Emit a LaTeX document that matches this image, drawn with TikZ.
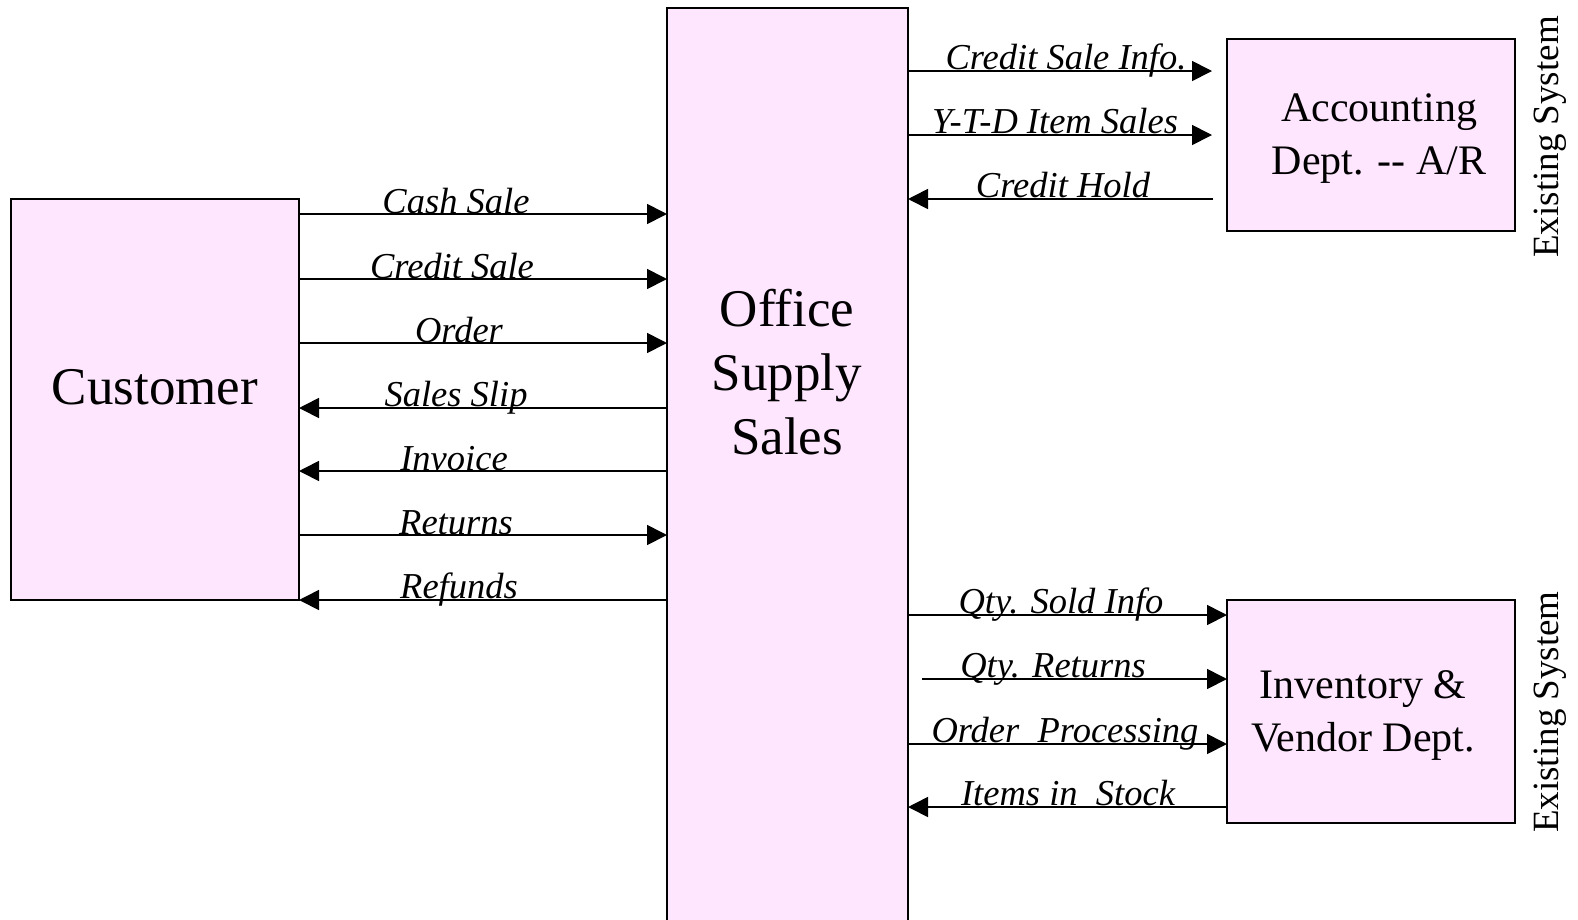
\documentclass[tikz,border=0pt]{standalone}
\usepackage{fontspec}
\setmainfont{Liberation Serif}
\usetikzlibrary{arrows.meta}
\definecolor{boxfill}{RGB}{255,230,255}
\begin{document}
\begin{tikzpicture}[x=1pt,y=-1pt,
  box/.style={draw=black,line width=1.8pt,fill=boxfill},
  flow/.style={line width=1.7pt,-{Triangle[length=20pt,width=20pt]}},
  lbl/.style={font=\fontsize{36.5}{40}\selectfont\itshape,anchor=base,inner sep=0pt},
  bigtxt/.style={font=\fontsize{53}{64}\selectfont,align=center},
  medtxt/.style={font=\fontsize{42}{53}\selectfont,align=center},
  sidetxt/.style={font=\fontsize{37}{40}\selectfont,rotate=90}]
\useasboundingbox (0,0) rectangle (1578,919);
% boxes
\path[box] (11,199) rectangle (299,600);
\path[box] (667,8) rectangle (908,925);
\path[box] (1227,39) rectangle (1515,231);
\path[box] (1227,600) rectangle (1515,823);
\node[bigtxt] (cust) at (155,387) {Customer};
\node[bigtxt] (oss) at (787,372) {Office\\Supply\\Sales};
\node[medtxt] (acc) at (1379,139) {Accounting\\Dept. -{}- A/R};
\node[medtxt] (inv) at (1363,715) {Inventory \&\\Vendor Dept.};
\node[sidetxt] (es1) at (1550,137) {Existing System};
\node[sidetxt] (es2) at (1550,712) {Existing System};
% left flows
\coordinate (l1) at (299,214); \coordinate (r1) at (667,214);
\coordinate (l2) at (299,279); \coordinate (r2) at (667,279);
\coordinate (l3) at (299,343); \coordinate (r3) at (667,343);
\coordinate (l4) at (299,408); \coordinate (r4) at (667,408);
\coordinate (l5) at (299,471); \coordinate (r5) at (667,471);
\coordinate (l6) at (299,535); \coordinate (r6) at (667,535);
\coordinate (l7) at (299,600); \coordinate (r7) at (667,600);
\draw[flow] (l1) -- (r1);
\draw[flow] (l2) -- (r2);
\draw[flow] (l3) -- (r3);
\draw[flow] (r4) -- (l4);
\draw[flow] (r5) -- (l5);
\draw[flow] (l6) -- (r6);
\draw[flow] (r7) -- (l7);
\node[lbl] (t1) at (456,213) {Cash Sale};
\node[lbl] (t2) at (452,278) {Credit Sale};
\node[lbl] (t3) at (459,342) {Order};
\node[lbl] (t4) at (456,406) {Sales Slip};
\node[lbl] (t5) at (454,470) {Invoice};
\node[lbl] (t6) at (456,534) {Returns};
\node[lbl] (t7) at (459,598) {Refunds};
% right top flows
\coordinate (a1) at (908,71); \coordinate (b1) at (1212,71);
\coordinate (a2) at (908,135); \coordinate (b2) at (1212,135);
\coordinate (a3) at (908,199); \coordinate (b3) at (1213,199);
\draw[flow] (a1) -- (b1);
\draw[flow] (a2) -- (b2);
\draw[flow] (b3) -- (a3);
\node[lbl] (u1) at (1066,69) {Credit Sale Info.};
\node[lbl] (u2) at (1055,133) {Y-T-D Item Sales};
\node[lbl] (u3) at (1063,197) {Credit Hold};
% right bottom flows
\coordinate (c1) at (908,615); \coordinate (d1) at (1227,615);
\coordinate (c2) at (922,679); \coordinate (d2) at (1227,679);
\coordinate (c3) at (908,744); \coordinate (d3) at (1227,744);
\coordinate (c4) at (908,807); \coordinate (d4) at (1227,807);
\draw[flow] (c1) -- (d1);
\draw[flow] (c2) -- (d2);
\draw[flow] (c3) -- (d3);
\draw[flow] (d4) -- (c4);
\node[lbl] (v1) at (1061,613) {Qty. Sold Info};
\node[lbl] (v2) at (1053,677) {Qty. Returns};
\node[lbl] (v3) at (1065,742) {Order\ \ Processing};
\node[lbl] (v4) at (1068,805) {Items in\ \ Stock};
\end{tikzpicture}
\end{document}
